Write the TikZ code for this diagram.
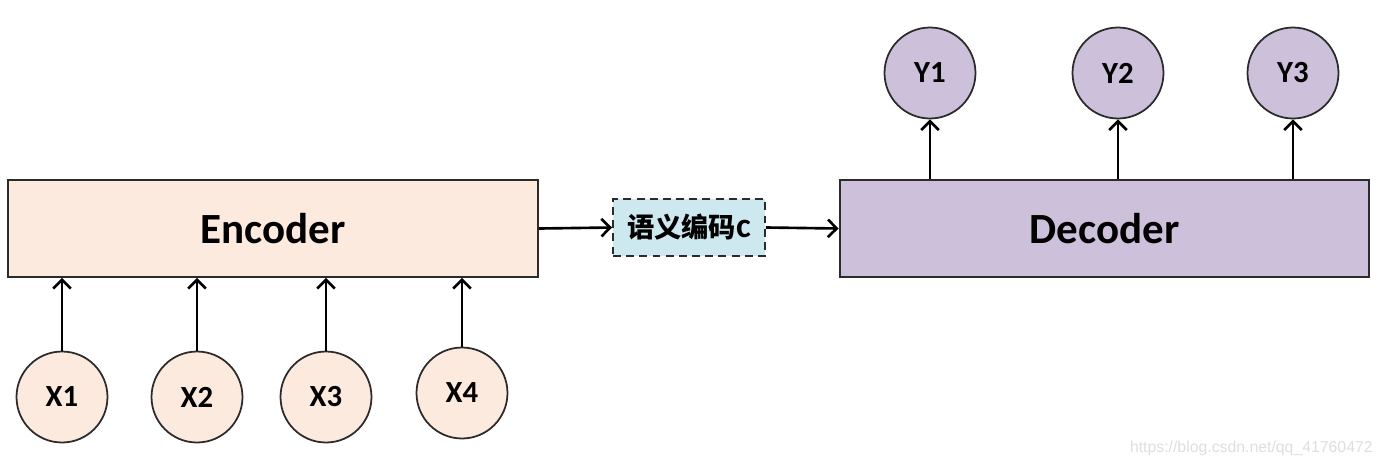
\documentclass[tikz,border=0pt]{standalone}
\usepackage{fontspec}
\setmainfont{Carlito}
\newfontfamily\cjkfont{Noto Sans CJK SC}
\newfontfamily\markfont{Liberation Sans}
\usepackage{tikz}
\usetikzlibrary{arrows.meta,positioning}

\definecolor{encfill}{HTML}{FDEADE}
\definecolor{decfill}{HTML}{CCC0DA}
\definecolor{semfill}{HTML}{CDE8EE}
\definecolor{edgecol}{HTML}{2B2B2B}

\tikzset{
  block/.style = {draw = edgecol, line width = 1.1pt, shape = rectangle, minimum width = 10.6cm, minimum height = 1.94cm, font = \fontsize{24.5}{28}\selectfont\bfseries},
  token/.style = {draw = edgecol, line width = 1pt, shape = circle, minimum size = 1.82cm, inner sep = 0pt, font = \fontsize{17.5}{20}\selectfont\bfseries},
  semantic/.style = {draw = edgecol, fill = semfill, line width = 1.1pt, dash pattern = on 4.5pt off 3pt, shape = rectangle, minimum width = 3.04cm, minimum height = 1.14cm, inner sep = 0pt},
  flow/.style = {draw = black, line width = 1.5pt, -{Straight Barb[length = 5pt, width = 10pt, line width = 1.5pt]}}
}

\begin{document}
\begin{tikzpicture}[x = 0.02cm, y = -0.02cm]
\useasboundingbox (0,0) rectangle (1384,464);
% encoder side
\node[block, fill = encfill] (encoder) at (273,228.5) {Encoder};
\node[token, fill = encfill] (x1) at (62,397) {X1};
\node[token, fill = encfill] (x2) at (197,397) {X2};
\node[token, fill = encfill] (x3) at (326,397) {X3};
\node[token, fill = encfill] (x4) at (462,393) {X4};
% semantic code
\node[semantic] (code) at (689,227.5) {\fontsize{15.5}{18}\selectfont\cjkfont\bfseries 语义编码\fontspec{Carlito}\fontsize{20}{18}\selectfont\bfseries c};
% decoder side
\node[block, fill = decfill] (decoder) at (1104.5,228.5) {Decoder};
\node[token, fill = decfill] (y1) at (930,73) {Y1};
\node[token, fill = decfill] (y2) at (1118,73) {Y2};
\node[token, fill = decfill] (y3) at (1293,73) {Y3};
% connectors
\foreach \t in {x1,x2,x3,x4}
  \draw[flow] (\t.north) -- (\t.north |- encoder.south);
\foreach \t in {y1,y2,y3}
  \draw[flow] (\t.south |- decoder.north) -- (\t.south);
\draw[flow] (encoder.east) -- (code.west);
\draw[flow] (code.east) -- (decoder.west);
% watermark
\node[font = \markfont\fontsize{9}{11}\selectfont, text = black!13, anchor = east, inner sep = 0pt] (mark) at (1373,448) {https://blog.csdn.net/qq\_41760472};
\end{tikzpicture}
\end{document}
